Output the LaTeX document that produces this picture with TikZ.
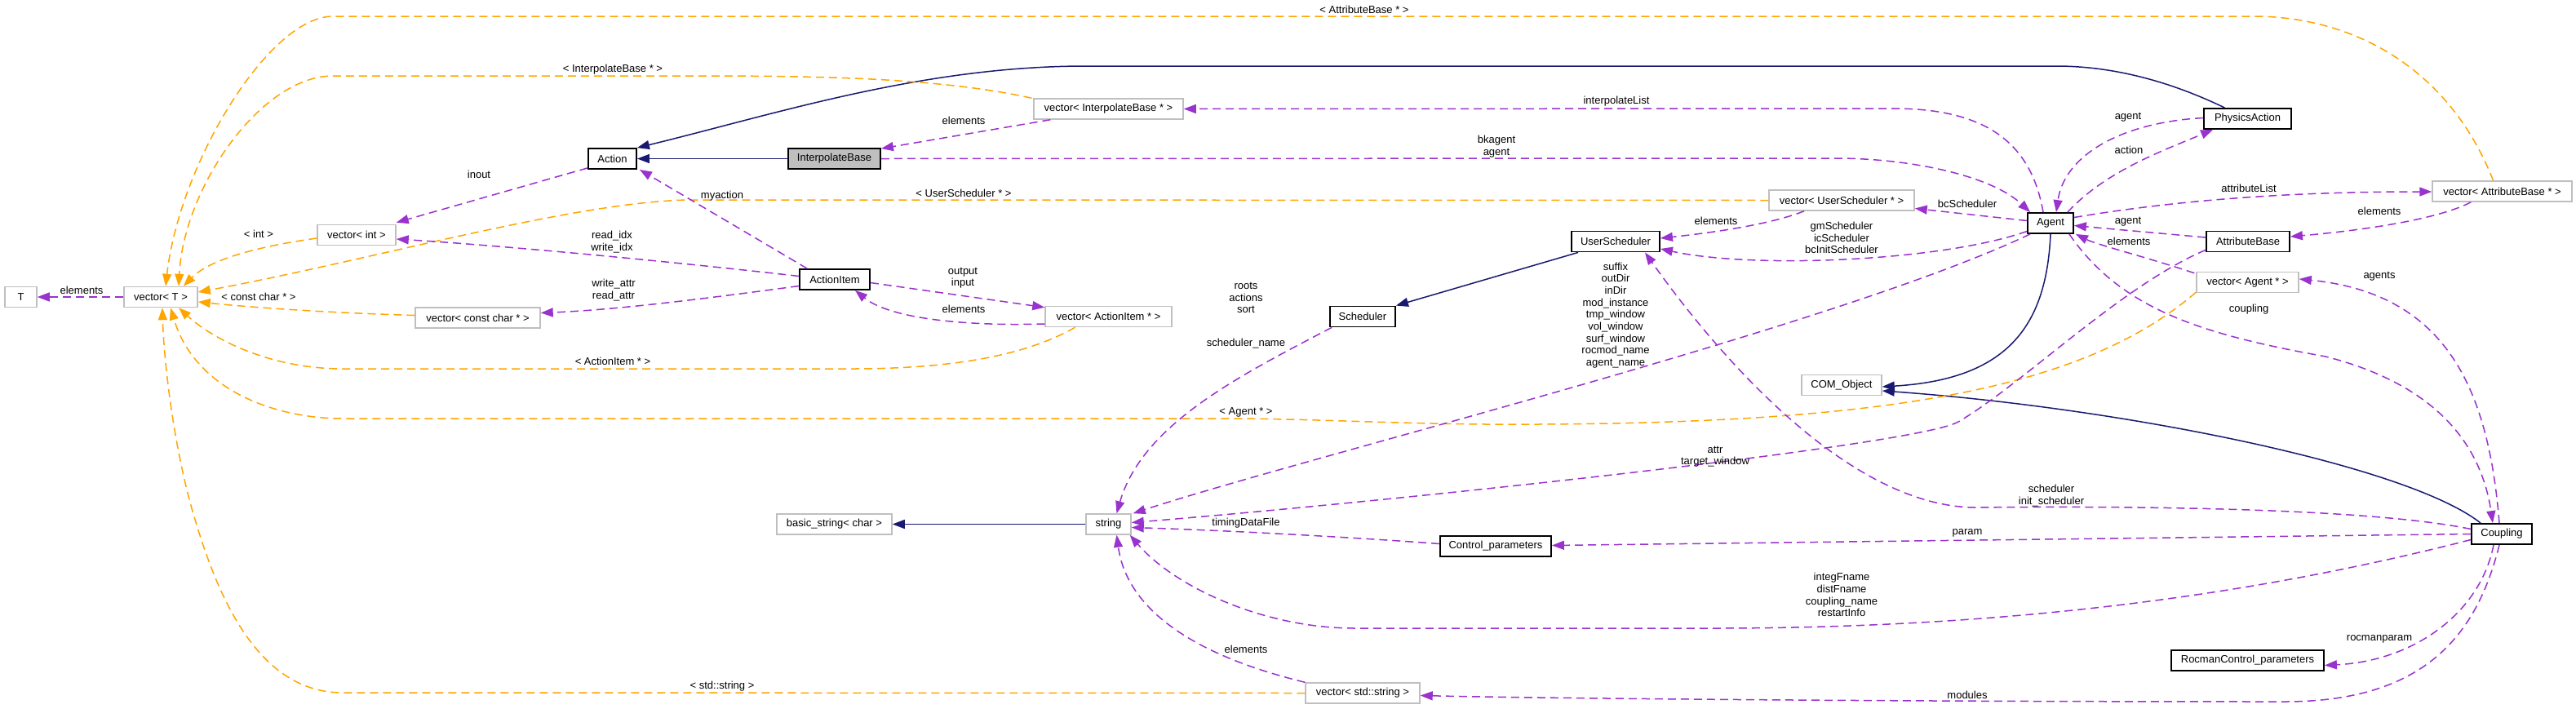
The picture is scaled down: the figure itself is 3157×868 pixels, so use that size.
\documentclass[tikz,border=0pt]{standalone}
\usepackage{fontspec}
\setmainfont{Liberation Sans}
\usetikzlibrary{arrows.meta,calc}
\definecolor{navy}{HTML}{191970}
\definecolor{orch}{HTML}{9A32CD}
\definecolor{orng}{HTML}{FFA500}
\definecolor{gbord}{HTML}{BFBFBF}
\begin{document}
\begin{tikzpicture}[x=1pt,y=-1pt,
 every node/.style={font=\fontsize{13}{14.7}\selectfont, inner sep=0pt},
 ext/.style={draw=gbord, line width=1.5pt, fill=white, minimum height=25pt},
 doc/.style={draw=black, line width=1.8pt, fill=white, minimum height=25pt},
 lbl/.style={align=center},
 inh/.style={draw=navy, line width=1.5pt, -{Triangle[length=15pt,width=11pt]}},
 tpl/.style={draw=orng, line width=1.5pt, dash pattern=on 10pt off 6pt, -{Triangle[length=15pt,width=11pt]}},
 use/.style={draw=orch, line width=1.5pt, dash pattern=on 10pt off 6pt, -{Triangle[length=15pt,width=11pt]}},
]
\path[use as bounding box, fill=white] (0,0) rectangle (3157,868);

% nodes
\node[ext, minimum width=39pt] (T) at (25.5,364) {T};
\node[ext, minimum width=90pt] (vT) at (197,364) {vector< T >};
\node[ext, minimum width=96pt] (vInt) at (437,288) {vector< int >};
\node[ext, minimum width=153pt] (vcc) at (585.5,389.5) {vector< const char * >};
\node[doc, minimum width=59pt] (Action) at (750.5,194.5) {Action};
\node[doc, minimum width=113pt, fill=gbord] (IB) at (1022.5,194.5) {InterpolateBase};
\node[ext, minimum width=183pt] (vIB) at (1358.5,133.5) {vector< InterpolateBase * >};
\node[doc, minimum width=86pt] (AI) at (1023,342.5) {ActionItem};
\node[ext, minimum width=155pt] (vAI) at (1358.5,388) {vector< ActionItem * >};
\node[ext, minimum width=178pt] (vUS) at (2257,245.5) {vector< UserScheduler * >};
\node[doc, minimum width=108pt] (US) at (1980,296) {UserScheduler};
\node[doc, minimum width=80pt] (Sch) at (1670,388) {Scheduler};
\node[ext, minimum width=141pt] (bs) at (1022.5,642.5) {basic\_string< char >};
\node[ext, minimum width=55pt] (str) at (1358.5,642.5) {string};
\node[ext, minimum width=98pt] (COM) at (2257,472) {COM\_Object};
\node[doc, minimum width=136pt] (CP) at (1833,669.5) {Control\_parameters};
\node[ext, minimum width=140pt] (vss) at (1670,849.5) {vector< std::string >};
\node[doc, minimum width=107pt] (PA) at (2754.5,145.5) {PhysicsAction};
\node[doc, minimum width=56pt] (Agent) at (2513,273.5) {Agent};
\node[ext, minimum width=171pt] (vAB) at (3066.5,234.5) {vector< AttributeBase * >};
\node[doc, minimum width=102pt] (AB) at (2755,296) {AttributeBase};
\node[ext, minimum width=125pt] (vAgent) at (2754.5,346) {vector< Agent * >};
\node[doc, minimum width=74pt] (Coupling) at (3066,654.5) {Coupling};
\node[doc, minimum width=187pt] (RCP) at (2754.5,809.5) {RocmanControl\_parameters};

% inheritance
\draw[inh] (IB.west) -- (Action.east);
\draw[inh] ($(PA.north)+(-28,0)$) .. controls (2660,100) and (2590,81) .. (2520,81) -- (1331,81) .. controls (1130,81) and (950,140) .. (Action.north east);
\draw[inh] ($(US.south west)+(9,0)$) -- (Sch.north east);
\draw[inh] (Agent.south) .. controls (2508,400) and (2460,465) .. ($(COM.east)+(0,2)$);
\draw[inh] ($(Coupling.north west)+(12,0)$) .. controls (2950,570) and (2600,500) .. ($(COM.east)+(0,7)$);
\draw[inh] (str.west) -- (bs.east);

% template instances
\draw[tpl] ($(vAB.north)+(-11,0)$) .. controls (3000,80) and (2880,20) .. (2762,20) -- (408,20) .. controls (330,20) and (220,200) .. ($(vT.north)+(6,0)$);
\draw[tpl] ($(vIB.north west)+(-2,0)$) .. controls (1150,95) and (1000,93) .. (850,93) -- (408,93) .. controls (320,93) and (225,230) .. ($(vT.north)+(22,0)$);
\draw[tpl] (vUS.west) -- (843,245) .. controls (700,248) and (450,320) .. ($(vT.east)+(0,-6)$);
\draw[tpl] ($(vInt.west)+(0,4)$) .. controls (330,300) and (260,315) .. ($(vT.north east)+(-18,0)$);
\draw[tpl] ($(vcc.west)+(0,-3)$) .. controls (420,384) and (320,378) .. ($(vT.east)+(0,6)$);
\draw[tpl] ($(vAI.south)+(-41,0)$) .. controls (1250,440) and (1150,452) .. (1044,452) -- (420,452) .. controls (330,452) and (260,415) .. ($(vT.south)+(22,0)$);
\draw[tpl] ($(vAgent.south west)+(0,-1)$) .. controls (2550,480) and (2300,522) .. (1821,520) .. controls (1700,519) and (1600,513) .. (1500,513) -- (420,513) .. controls (340,513) and (240,480) .. ($(vT.south)+(12,0)$);
\draw[tpl] (vss.west) -- (420,849) .. controls (320,849) and (270,740) .. (240,640) .. controls (215,560) and (201,450) .. ($(vT.south)+(2,0)$);

% usage
\draw[use] (vT.west) -- (T.east);
\draw[use] ($(Action.south west)+(0,-2)$) -- ($(vInt.north east)+(0,-2)$);
\draw[use] ($(AI.west)+(0,-4)$) .. controls (800,318) and (600,300) .. ($(vInt.east)+(0,5)$);
\draw[use] ($(AI.west)+(0,8)$) .. controls (850,368) and (750,380) .. ($(vcc.east)+(0,-6)$);
\draw[use] ($(AI.north west)+(10,0)$) -- ($(Action.south east)+(3,0)$);
\draw[use] ($(AI.east)+(0,4)$) -- ($(vAI.north west)+(0,2)$);
\draw[use] ($(vAI.west)+(0,9)$) .. controls (1180,400) and (1090,390) .. ($(AI.south)+(25,0)$);
\draw[use] ($(vIB.south west)+(21,0)$) -- ($(IB.north east)+(0,1)$);
\draw[use] ($(Agent.north)+(-9,0)$) .. controls (2490,180) and (2440,133) .. (2320,133) -- (vIB.east);
\draw[use] (IB.east) -- (2250,194) .. controls (2340,194) and (2440,215) .. ($(Agent.north west)+(4,0)$);
\draw[use] ($(Agent.west)+(0,-3)$) -- ($(vUS.east)+(0,10)$);
\draw[use] ($(vUS.south)+(-46,0)$) .. controls (2170,275) and (2100,285) .. ($(US.east)+(0,-4)$);
\draw[use] ($(Agent.west)+(0,10)$) .. controls (2380,320) and (2150,330) .. ($(US.east)+(0,9)$);
\draw[use] ($(Coupling.west)+(0,-6)$) .. controls (2900,622) and (2600,620) .. (2420,622) .. controls (2250,620) and (2080,400) .. ($(US.south)+(36,0)$);
\draw[use] ($(Agent.south west)+(4,0)$) .. controls (2250,400) and (1600,560) .. ($(str.north east)+(2,0)$);
\draw[use] ($(Sch.south west)+(3,0)$) .. controls (1520,460) and (1400,520) .. ($(str.north)+(10,0)$);
\draw[use] ($(AB.south west)+(0,-3)$) .. controls (2600,350) and (2480,470) .. (2400,517) .. controls (2350,546) and (1700,615) .. ($(str.east)+(0,-2)$);
\draw[use] ($(CP.west)+(0,-3)$) .. controls (1650,658) and (1500,650) .. ($(str.east)+(0,4)$);
\draw[use] ($(Coupling.west)+(0,7)$) .. controls (2800,720) and (2500,770) .. (2100,770) -- (1660,770) .. controls (1550,770) and (1440,720) .. ($(str.south east)+(-2,0)$);
\draw[use] (vss.north west) .. controls (1450,800) and (1380,740) .. ($(str.south)+(10,0)$);
\draw[use] (Coupling.west) -- ($(CP.east)+(0,-1)$);
\draw[use] ($(Coupling.south)+(-3,0)$) .. controls (3035,780) and (2970,860) .. (2800,860) .. controls (2300,860) and (1900,856) .. ($(vss.east)+(0,3)$);
\draw[use] ($(Coupling.south)+(-10,0)$) .. controls (3040,750) and (2960,810) .. ($(RCP.east)+(0,6)$);
\draw[use] ($(Agent.south east)+(-6,0)$) .. controls (2600,380) and (2700,410) .. (2850,437) .. controls (2980,470) and (3040,540) .. ($(Coupling.north)+(-11,0)$);
\draw[use] ($(Coupling.north)+(-3,0)$) .. controls (3050,480) and (3000,360) .. ($(vAgent.east)+(0,-4)$);
\draw[use] ($(PA.west)+(0,-1)$) .. controls (2600,150) and (2530,190) .. ($(Agent.north)+(7,0)$);
\draw[use] ($(Agent.north east)+(-8,0)$) .. controls (2580,210) and (2650,185) .. ($(PA.south west)+(12,0)$);
\draw[use] ($(Agent.east)+(0,-7)$) .. controls (2700,240) and (2850,235) .. ($(vAB.west)+(0,0.5)$);
\draw[use] ($(vAB.south west)+(48,0)$) .. controls (2990,268) and (2900,282) .. ($(AB.east)+(0,-6)$);
\draw[use] ($(AB.west)+(0,-5)$) -- ($(Agent.east)+(0,3)$);
\draw[use] ($(vAgent.north west)+(-2,2)$) .. controls (2630,315) and (2570,300) .. ($(Agent.south east)+(2,0)$);

% labels
\node[lbl] (l1) at (100,356) {elements};
\node[lbl] (l2) at (317,287) {< int >};
\node[lbl] (l3) at (317,364) {< const char * >};
\node[lbl] (l4) at (587,214) {inout};
\node[lbl] (l5) at (750,296.5) {read\_idx\\write\_idx};
\node[lbl] (l6) at (752,355.5) {write\_attr\\read\_attr};
\node[lbl] (l7) at (751,443) {< ActionItem * >};
\node[lbl] (l8) at (751,85) {< InterpolateBase * >};
\node[lbl] (l9) at (1672,12) {< AttributeBase * >};
\node[lbl] (l10) at (1181,148) {elements};
\node[lbl] (l11) at (885,240) {myaction};
\node[lbl] (l12) at (1181,237) {< UserScheduler * >};
\node[lbl] (l13) at (1180,340.5) {output\\input};
\node[lbl] (l14) at (1181,379) {elements};
\node[lbl] (l15) at (1527,365) {roots\\actions\\sort};
\node[lbl] (l16) at (1527,421) {scheduler\_name};
\node[lbl] (l17) at (1981,124) {interpolateList};
\node[lbl] (l18) at (1834,179.5) {bkagent\\agent};
\node[lbl] (l19) at (2103,271) {elements};
\node[lbl] (l20) at (2257,291.5) {gmScheduler\\icScheduler\\bcInitScheduler};
\node[lbl] (l21) at (1980,386.5) {suffix\\outDir\\inDir\\mod\_instance\\tmp\_window\\vol\_window\\surf\_window\\rocmod\_name\\agent\_name};
\node[lbl] (l22) at (1527,641) {timingDataFile};
\node[lbl] (l23) at (1527,796) {elements};
\node[lbl] (l24) at (885,841) {< std::string >};
\node[lbl] (l25) at (1527,505) {< Agent * >};
\node[lbl] (l26) at (2102,559.5) {attr\\target\_window};
\node[lbl] (l27) at (2257,729) {integFname\\distFname\\coupling\_name\\restartInfo};
\node[lbl] (l28) at (2608,144) {agent};
\node[lbl] (l29) at (2609,184) {action};
\node[lbl] (l30) at (2756,231) {attributeList};
\node[lbl] (l31) at (2916,259) {elements};
\node[lbl] (l32) at (2608,272) {agent};
\node[lbl] (l33) at (2609,296) {elements};
\node[lbl] (l34) at (2916,339) {agents};
\node[lbl] (l35) at (2756,379) {coupling};
\node[lbl] (l36) at (2411,250) {bcScheduler};
\node[lbl] (l37) at (2514,607.5) {scheduler\\init\_scheduler};
\node[lbl] (l38) at (2411,653) {param};
\node[lbl] (l39) at (2916,783) {rocmanparam};
\node[lbl] (l40) at (2411,852) {modules};
\end{tikzpicture}
\end{document}
